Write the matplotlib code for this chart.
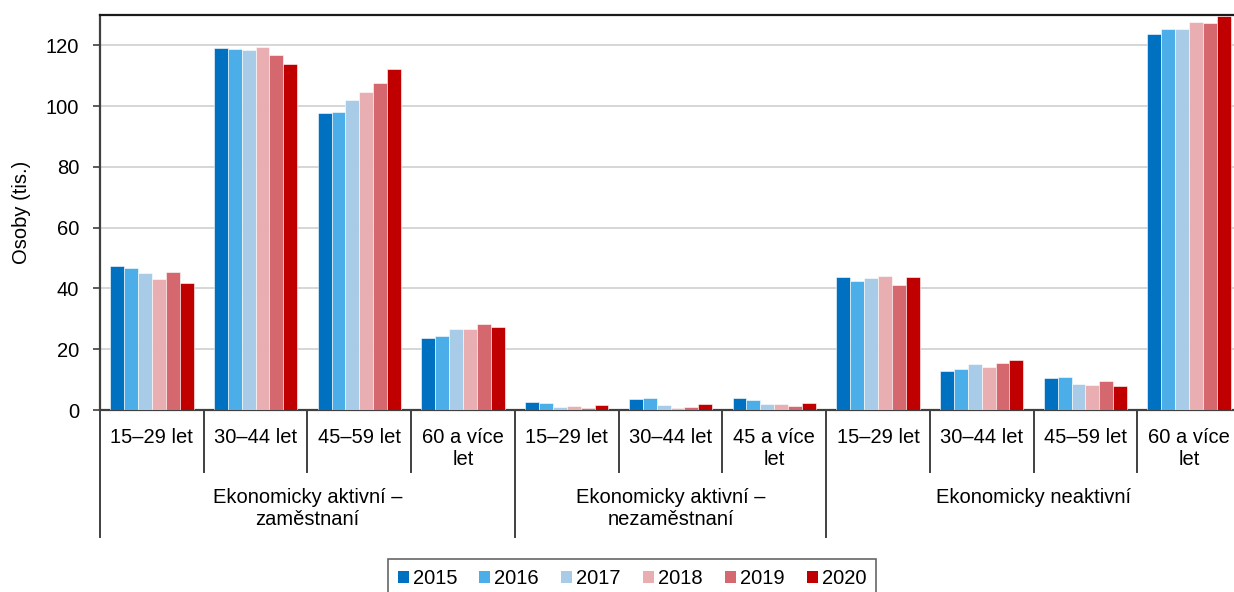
import matplotlib
matplotlib.use("Agg")
import matplotlib.pyplot as plt
import matplotlib.transforms as mtransforms
from matplotlib.patches import Patch
import numpy as np

plt.rcParams['font.family'] = ['Liberation Sans', 'DejaVu Sans']

years = ['2015', '2016', '2017', '2018', '2019', '2020']
colors = ['#0070C0', '#4BAEE8', '#A8CCE8', '#E8AEB2', '#D4686E', '#C00000']

groups = ['Ekonomicky aktivní –\nzaměstnaní', 'Ekonomicky aktivní –\nnezaměstnaní', 'Ekonomicky neaktivní']
subcats = [
    ['15–29 let', '30–44 let', '45–59 let', '60 a více\nlet'],
    ['15–29 let', '30–44 let', '45 a více\nlet'],
    ['15–29 let', '30–44 let', '45–59 let', '60 a více\nlet'],
]

# values (thousands) per category, per year 2015..2020
v2015 = [47.5, 119.2, 97.8, 23.7, 2.6, 3.7, 4.1, 43.8, 12.9, 10.4, 123.6]
v2016 = [46.8, 118.7, 98.0, 24.2, 2.3, 3.8, 3.2, 42.4, 13.6, 10.7, 125.5]
v2017 = [45.0, 118.5, 102.0, 26.8, 1.1, 1.8, 2.0, 43.5, 15.2, 8.4, 125.5]
v2018 = [43.1, 119.6, 104.6, 26.5, 1.2, 0.8, 1.9, 44.2, 14.2, 8.1, 127.6]
v2019 = [45.4, 116.7, 107.5, 28.2, 0.8, 1.0, 1.3, 41.2, 15.5, 9.4, 127.5]
v2020 = [41.8, 113.8, 112.3, 27.2, 1.6, 1.9, 2.4, 43.8, 16.5, 7.8, 129.8]
series = [v2015, v2016, v2017, v2018, v2019, v2020]

FS = 14.5
W, H = 1234, 592
fig = plt.figure(figsize=(W / 100, H / 100), dpi=100)
left_px, right_px, top_px, bot_px = 100, 1241, 15, 410
ax = fig.add_axes([left_px / W, 1 - bot_px / H, (right_px - left_px) / W, (bot_px - top_px) / H])

n = len(v2015)
x = np.arange(n)
bw = 0.134
for i, (vals, c, y) in enumerate(zip(series, colors, years)):
    ax.bar(x + (i - 2.5) * bw, vals, width=bw, color=c, edgecolor='white', linewidth=0.4, label=y, zorder=3)

ax.set_xlim(-0.5, n - 0.5)
ax.set_ylim(0, 130)
ax.set_yticks(range(0, 121, 20))
ax.tick_params(axis='y', labelsize=FS, length=5, width=1.2, color='#404040', pad=10)
ax.set_xticks([])
ax.yaxis.grid(True, color='#D0D0D0', linewidth=1.2, zorder=0)
ax.set_axisbelow(True)
ax.set_ylabel('Osoby (tis.)', fontsize=FS, labelpad=11)

for s in ['left', 'bottom']:
    ax.spines[s].set_color('#404040')
    ax.spines[s].set_linewidth(1.6)
ax.spines['top'].set_color('#1a1a1a')
ax.spines['top'].set_linewidth(1.6)
ax.spines['right'].set_visible(False)

trans = mtransforms.blended_transform_factory(ax.transData, ax.transAxes)
ax_h_px = bot_px - top_px
def yfrac(px_below):
    return -px_below / ax_h_px

# category labels and separators
idx = 0
boundaries_outer = [-0.5]
for g, subs in zip(groups, subcats):
    start = idx
    for s in subs:
        ax.text(idx, yfrac(18), s, transform=trans, ha='center', va='top', fontsize=FS, linespacing=1.2)
        idx += 1
    end = idx
    ax.text((start + end - 1) / 2, yfrac(78), g, transform=trans, ha='center', va='top', fontsize=FS, linespacing=1.2)
    boundaries_outer.append(end - 0.5)

outer_set = set(boundaries_outer)
for b in np.arange(-0.5, n, 1.0):
    depth = 127 if b in outer_set else 62
    ax.plot([b, b], [0, yfrac(depth)], transform=trans, color='#404040', linewidth=1.4, clip_on=False)

handles = [Patch(facecolor=c, edgecolor='none', label=y) for c, y in zip(colors, years)]
leg = fig.legend(handles=handles, loc='lower center', bbox_to_anchor=(632 / W, -6 / H), ncol=6,
                 fontsize=FS, frameon=True, fancybox=False, edgecolor='#404040',
                 handlelength=0.55, handleheight=0.55, handletextpad=0.2, columnspacing=1.1,
                 borderpad=0.5, borderaxespad=0)
leg.get_frame().set_linewidth(1.2)

fig.savefig('out.png', dpi=100)
